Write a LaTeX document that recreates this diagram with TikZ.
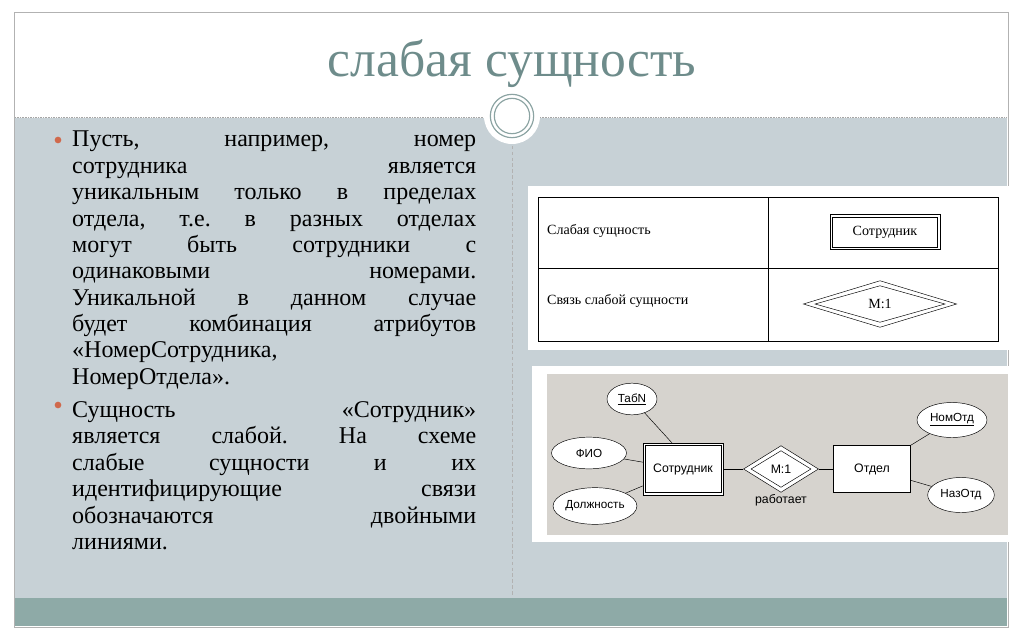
\documentclass[tikz,border=0pt]{standalone}
\usepackage{fontspec}
\setmainfont{Liberation Serif}
\newfontfamily\erfont{Liberation Sans}
\usetikzlibrary{shapes.geometric}
\definecolor{bodyc}{HTML}{C7D1D6}
\definecolor{bandc}{HTML}{8EAAA7}
\definecolor{titlec}{HTML}{6E8C8B}
\definecolor{bulc}{HTML}{D0694C}
\definecolor{erbg}{HTML}{D6D3CE}
\tikzset{
 ell/.style={ellipse,draw,fill=white,inner sep=0pt,font=\erfont\fontsize{10}{11}\selectfont},
 ent/.style={draw,fill=white,minimum width=2.3cm,minimum height=1.4cm,font=\erfont\fontsize{10.5}{12}\selectfont},
 lbl/.style={font=\fontsize{12}{14}\selectfont}
}
\begin{document}
\frenchspacing
\begin{tikzpicture}[x=0.03cm,y=-0.03cm]
\useasboundingbox (0,0) rectangle (1024,639);
\fill[white] (0,0) rectangle (1024,639);
\draw[gray!60,fill=white] (14,12) rectangle (1008,627);
\fill[bodyc] (15,118) rectangle (1007,598);
\fill[bandc] (15,598) rectangle (1007,626);
\draw[gray!70,densely dotted] (15,117) -- (1007,117);
\draw[gray!60,densely dashed] (512,140) -- (512,596);
\fill[white] (512,116) circle[radius=0.84cm];
\draw[titlec!80,line width=1pt] (512,116) circle[radius=0.65cm];
\draw[titlec!80,line width=1pt] (512,116) circle[radius=0.53cm];
\node[titlec,font=\fontsize{44}{48}\selectfont] (title) at (512,64) {слабая сущность};
% text
\fill[bulc] (58,140) circle[radius=0.1cm];
\fill[bulc] (58,405) circle[radius=0.1cm];
\node[anchor=north west,inner sep=0pt,text width=12.12cm,align=justify,font=\fontsize{20.5}{22.5}\selectfont] (t1) at (72,131) {Пусть, например, номер\linebreak сотрудника является\linebreak уникальным только в пределах\linebreak отдела, т.е. в разных отделах\linebreak могут быть сотрудники с\linebreak одинаковыми номерами.\linebreak Уникальной в данном случае\linebreak будет комбинация атрибутов\linebreak «НомерСотрудника,\linebreak НомерОтдела».\par\vspace{6pt}
Сущность «Сотрудник»\linebreak является слабой. На схеме\linebreak слабые сущности и их\linebreak идентифицирующие связи\linebreak обозначаются двойными\linebreak линиями.};
% table
\fill[white] (528,186) rectangle (1010,350);
\draw (538,197) rectangle (998,341);
\draw (538,268) -- (998,268);
\draw (768,197) -- (768,341);
\node[lbl,anchor=west] (l1) at (543,231) {Слабая сущность};
\node[lbl,anchor=west] (l2) at (543,301) {Связь слабой сущности};
\node[draw,minimum width=3.3cm,minimum height=1.05cm,lbl] (s1) at (885,232) {Сотрудник};
\draw ([shift={(2.5pt,-2.5pt)}]s1.north west) rectangle ([shift={(-2.5pt,2.5pt)}]s1.south east);
\node[draw,diamond,aspect=3.4,minimum width=4.6cm,minimum height=1.4cm,inner sep=0pt,lbl] (s2) at (880,304) {};
\node[draw,diamond,aspect=3.4,minimum width=3.9cm,minimum height=1.1cm,inner sep=0pt,lbl] (s2i) at (880,304) {М:1};
% ER
\fill[white] (532,366) rectangle (1016,542);
\fill[erbg] (547,374) rectangle (1008,535);
\node[ell,minimum width=1.5cm,minimum height=0.95cm] (tab) at (632,399) {\underline{ТабN}};
\node[ell,minimum width=2.25cm,minimum height=0.95cm] (fio) at (589,453) {ФИО};
\node[ell,minimum width=2.25cm,minimum height=1.1cm] (dol) at (595,506) {Должность};
\node[ent,minimum width=2.4cm,minimum height=1.55cm] (sot) at (683,469) {};
\draw ([shift={(2pt,-2pt)}]sot.north west) rectangle ([shift={(-2pt,2pt)}]sot.south east);
\node[font=\erfont\fontsize{10.5}{12}\selectfont] (sott) at (sot) {Сотрудник};
\node[draw,fill=white,diamond,aspect=1.65,minimum width=2.25cm,minimum height=1.4cm,inner sep=0pt] (rel) at (781,469) {};
\node[draw,diamond,aspect=1.65,minimum width=1.8cm,minimum height=1.1cm,inner sep=0pt,font=\erfont\fontsize{10.5}{12}\selectfont] (reli) at (781,469) {М:1};
\node[font=\erfont\fontsize{10.5}{12}\selectfont] (rab) at (781,500) {работает};
\node[ent] (otd) at (872,469) {Отдел};
\node[ell,minimum width=2.1cm,minimum height=1.05cm] (nom) at (952,420) {\underline{НомОтд}};
\node[ell,minimum width=2.0cm,minimum height=1.05cm] (naz) at (961,495) {НазОтд};
\draw (tab) -- (sot.north -| 672,0);
\draw (fio) -- (sot);
\draw (dol) -- (sot);
\draw (sot) -- (rel);
\draw (rel) -- (otd);
\draw (otd) -- (nom);
\draw (otd) -- (naz);
\end{tikzpicture}
\end{document}
